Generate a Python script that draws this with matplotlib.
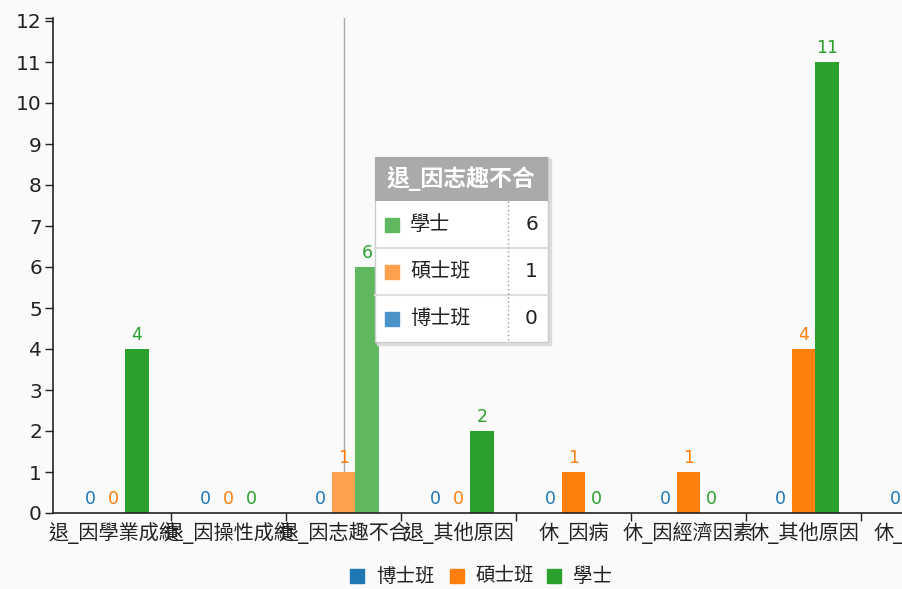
import matplotlib
matplotlib.use("Agg")
import matplotlib.pyplot as plt
from matplotlib.patches import Rectangle
import numpy as np

plt.rcParams['font.family'] = ['DejaVu Sans', 'Noto Sans CJK TC']

categories = ["退_因學業成績", "退_因操性成績", "退_因志趣不合", "退_其他原因",
              "休_因病", "休_因經濟因素", "休_其他原因", "休_服兵役"]
series_names = ["博士班", "碩士班", "學士"]
phd = [0, 0, 0, 0, 0, 0, 0, 0]
master = [0, 0, 1, 0, 1, 1, 4, 0]
bachelor = [4, 0, 6, 2, 0, 0, 11, 0]
series_values = [phd, master, bachelor]
colors = ["#1f77b4", "#ff7f0e", "#2ca02c"]
hover_colors = ["#4a94c9", "#ffa04e", "#5fb85f"]
hover_idx = 2
yticks = list(range(0, 13))

W, H = 902, 589
fig = plt.figure(figsize=(W / 100, H / 100), dpi=100)
fig.patch.set_facecolor("#fafafa")

ax_left, ax_right, ax_top, ax_bottom = 53, 902, 18, 513
ax = fig.add_axes([ax_left / W, 1 - ax_bottom / H, (ax_right - ax_left) / W, (ax_bottom - ax_top) / H])
ax.set_facecolor("#fafafa")

px_per_cat = 115.0
x0_px = 113.5
px_per_unit = 41.0

x = np.arange(len(categories))
bw = 0.203
offsets = [-bw, 0, bw]
for s, (vals, col, hcol, off) in enumerate(zip(series_values, colors, hover_colors, offsets)):
    cols = [hcol if i == hover_idx else col for i in range(len(vals))]
    ax.bar(x + off, vals, width=bw, color=cols, edgecolor="none", zorder=2)
    for xi, v in zip(x, vals):
        ax.text(xi + off, v + 0.12, str(v), ha="center", va="bottom", color=col,
                fontsize=12.5, zorder=3, clip_on=True)

ax.axvline(hover_idx, color="#aaaaaa", lw=1, zorder=1)

for sp in ["top", "right"]:
    ax.spines[sp].set_visible(False)
for sp in ["left", "bottom"]:
    ax.spines[sp].set_color("#222222")
    ax.spines[sp].set_linewidth(1.2)

ytop = (ax_bottom - ax_top) / px_per_unit
ax.set_yticks(yticks)
ax.set_yticklabels([str(t) for t in yticks], fontsize=14.5, color="#222222")
ax.set_yticks([ytop], minor=True)
ax.tick_params(axis="y", which="both", length=6, width=1, color="#222222", pad=2)

ax.set_xticks(x + 0.5)
ax.set_xticklabels([""] * len(x))
ax.tick_params(axis="x", length=6, width=1, color="#222222")

ax.set_xlim((ax_left - x0_px) / px_per_cat, (ax_right - x0_px) / px_per_cat)
ax.set_ylim(0, ytop)

for xi, cat in zip(x, categories):
    ax.text(xi, -0.22, cat, ha="center", va="top", fontsize=14.5, color="#222222",
            transform=ax.transData, clip_on=False)

# legend
leg_items = [(350, "博士班"), (450, "碩士班"), (547, "學士")]
ly = 576
for (lx, name), col in zip(leg_items, colors):
    fig.add_artist(Rectangle((lx / W, 1 - (ly + 7) / H), 14 / W, 14 / H,
                             transform=fig.transFigure, color=col))
    fig.text((lx + 26) / W, 1 - ly / H, name, ha="left", va="center", fontsize=14, color="#222222")

# tooltip
tx0, tx1 = 375, 548
ty0, thead, trow = 157, 201, 47
rows = [(series_names[2], bachelor[hover_idx], hover_colors[2]),
        (series_names[1], master[hover_idx], hover_colors[1]),
        (series_names[0], phd[hover_idx], hover_colors[0])]
ty1 = thead + trow * len(rows)

def R(x0, y0, x1, y1, **kw):
    fig.add_artist(Rectangle((x0 / W, 1 - y1 / H), (x1 - x0) / W, (y1 - y0) / H,
                             transform=fig.transFigure, **kw))

R(tx0 + 2, ty0 + 2, tx1 + 3, ty1 + 3, color="#dddddd", zorder=9)
R(tx0, ty0, tx1, ty1, facecolor="white", edgecolor="#cccccc", lw=1, zorder=10)
R(tx0, ty0, tx1, thead, facecolor="#aaaaaa", edgecolor="none", zorder=11)
fig.text((tx0 + tx1) / 2 / W, 1 - (ty0 + thead) / 2 / H, "退_因志趣不合", ha="center",
         va="center", fontsize=16.5, color="white", fontweight="bold", zorder=12)
sep_x = 508
for i, (name, val, col) in enumerate(rows):
    ry0 = thead + i * trow
    ry1 = ry0 + trow
    if i > 0:
        fig.add_artist(plt.Line2D([tx0 / W, tx1 / W], [1 - ry0 / H, 1 - ry0 / H],
                                  transform=fig.transFigure, color="#dddddd", lw=1.5, zorder=12))
    cy = (ry0 + ry1) / 2
    R(tx0 + 10, cy - 7, tx0 + 24, cy + 7, color=col, zorder=12)
    fig.text((tx0 + 35) / W, 1 - cy / H, name, ha="left", va="center", fontsize=14.5,
             color="#222222", zorder=12)
    fig.text((tx1 - 10) / W, 1 - cy / H, str(val), ha="right", va="center", fontsize=14.5,
             color="#222222", zorder=12)
fig.add_artist(plt.Line2D([sep_x / W, sep_x / W], [1 - thead / H, 1 - ty1 / H],
                          transform=fig.transFigure, color="#999999", lw=1, ls=(0, (1, 2)), zorder=12))

fig.savefig("out.png", dpi=100, facecolor=fig.get_facecolor())
